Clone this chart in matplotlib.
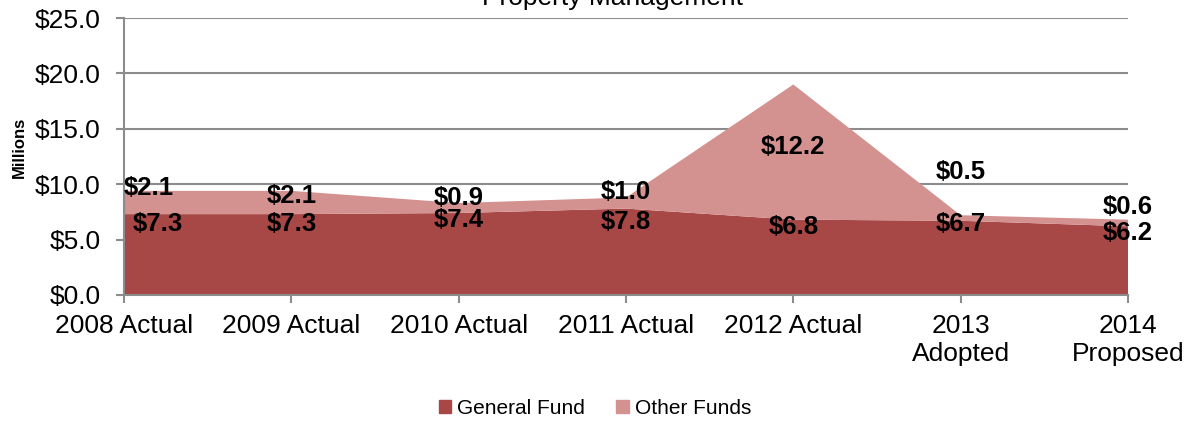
import matplotlib.pyplot as plt
from matplotlib.patches import Patch

plt.rcParams["font.family"] = ["Liberation Sans", "DejaVu Sans"]

# Property Management budget, in millions
years = ["2008 Actual", "2009 Actual", "2010 Actual", "2011 Actual",
         "2012 Actual", "2013\nAdopted", "2014\nProposed"]
general_fund = [7.3, 7.3, 7.4, 7.8, 6.8, 6.7, 6.2]
other_funds = [2.1, 2.1, 0.9, 1.0, 12.2, 0.5, 0.6]

# label nudges (data units), kept apart from the values
gen_dx = [0.2, 0.0, 0.0, 0.0, 0.0, 0.0, 0.0]
gen_dy = [-0.9, -0.9, -0.6, -1.2, -0.65, -0.3, -0.6]
oth_dx = [0.15, 0.0, 0.0, 0.0, 0.0, 0.0, 0.0]
oth_dy = [0.26, -0.46, 0.45, 0.5, -5.6, 3.9, 1.14]

c_general = "#A84846"
c_other = "#D39190"
grid_c = "#8C8C8C"

fig = plt.figure(figsize=(11.94, 4.24), dpi=100)
ax = fig.add_axes([124 / 1194, 1 - 295 / 424, 1004 / 1194, 277 / 424])

x = list(range(len(years)))
ax.stackplot(x, general_fund, other_funds, colors=[c_general, c_other],
             linewidth=0, zorder=2)

for i in x:
    tot = general_fund[i] + other_funds[i]
    ax.text(i + gen_dx[i], general_fund[i] + gen_dy[i], f"${general_fund[i]:.1f}",
            ha="center", va="center", fontsize=18.5, fontweight="bold", zorder=4)
    ax.text(i + oth_dx[i], tot + oth_dy[i], f"${other_funds[i]:.1f}",
            ha="center", va="center", fontsize=18.5, fontweight="bold", zorder=4)

ax.set_xlim(0, len(years) - 1)
ax.set_ylim(0, 25)
ax.set_yticks([0, 5, 10, 15, 20, 25])
ax.set_yticklabels([f"${v:.1f}" for v in [0, 5, 10, 15, 20, 25]])
ax.set_xticks(x)
ax.set_xticklabels(years)

ax.grid(axis="y", color=grid_c, linewidth=1.5, zorder=1)
ax.set_axisbelow(True)
for s in ["top", "right"]:
    ax.spines[s].set_visible(False)
for s in ["left", "bottom"]:
    ax.spines[s].set_color(grid_c)
    ax.spines[s].set_linewidth(1.5)
    ax.spines[s].set_zorder(3)
ax.tick_params(axis="y", length=6, width=1.5, color=grid_c, pad=11, labelsize=19)
ax.tick_params(axis="x", length=6, width=1.5, color=grid_c, pad=8, labelsize=19)

fig.text(613 / 1194, 1 - 5 / 424, "Property Management", ha="center",
         va="baseline", fontsize=19)
fig.text(19 / 1194, 1 - 147 / 424, "Millions", rotation=90, ha="center",
         va="center", fontsize=12, fontweight="bold")

handles = [Patch(color=c_general, label="General Fund"),
           Patch(color=c_other, label="Other Funds")]
fig.legend(handles=handles, loc="center", bbox_to_anchor=(595 / 1194, 1 - 408 / 424),
           ncol=2, frameon=False, fontsize=15, handlelength=0.6, handleheight=0.6,
           handletextpad=0.3, columnspacing=1.5)

fig.savefig("out.png", dpi=100)
